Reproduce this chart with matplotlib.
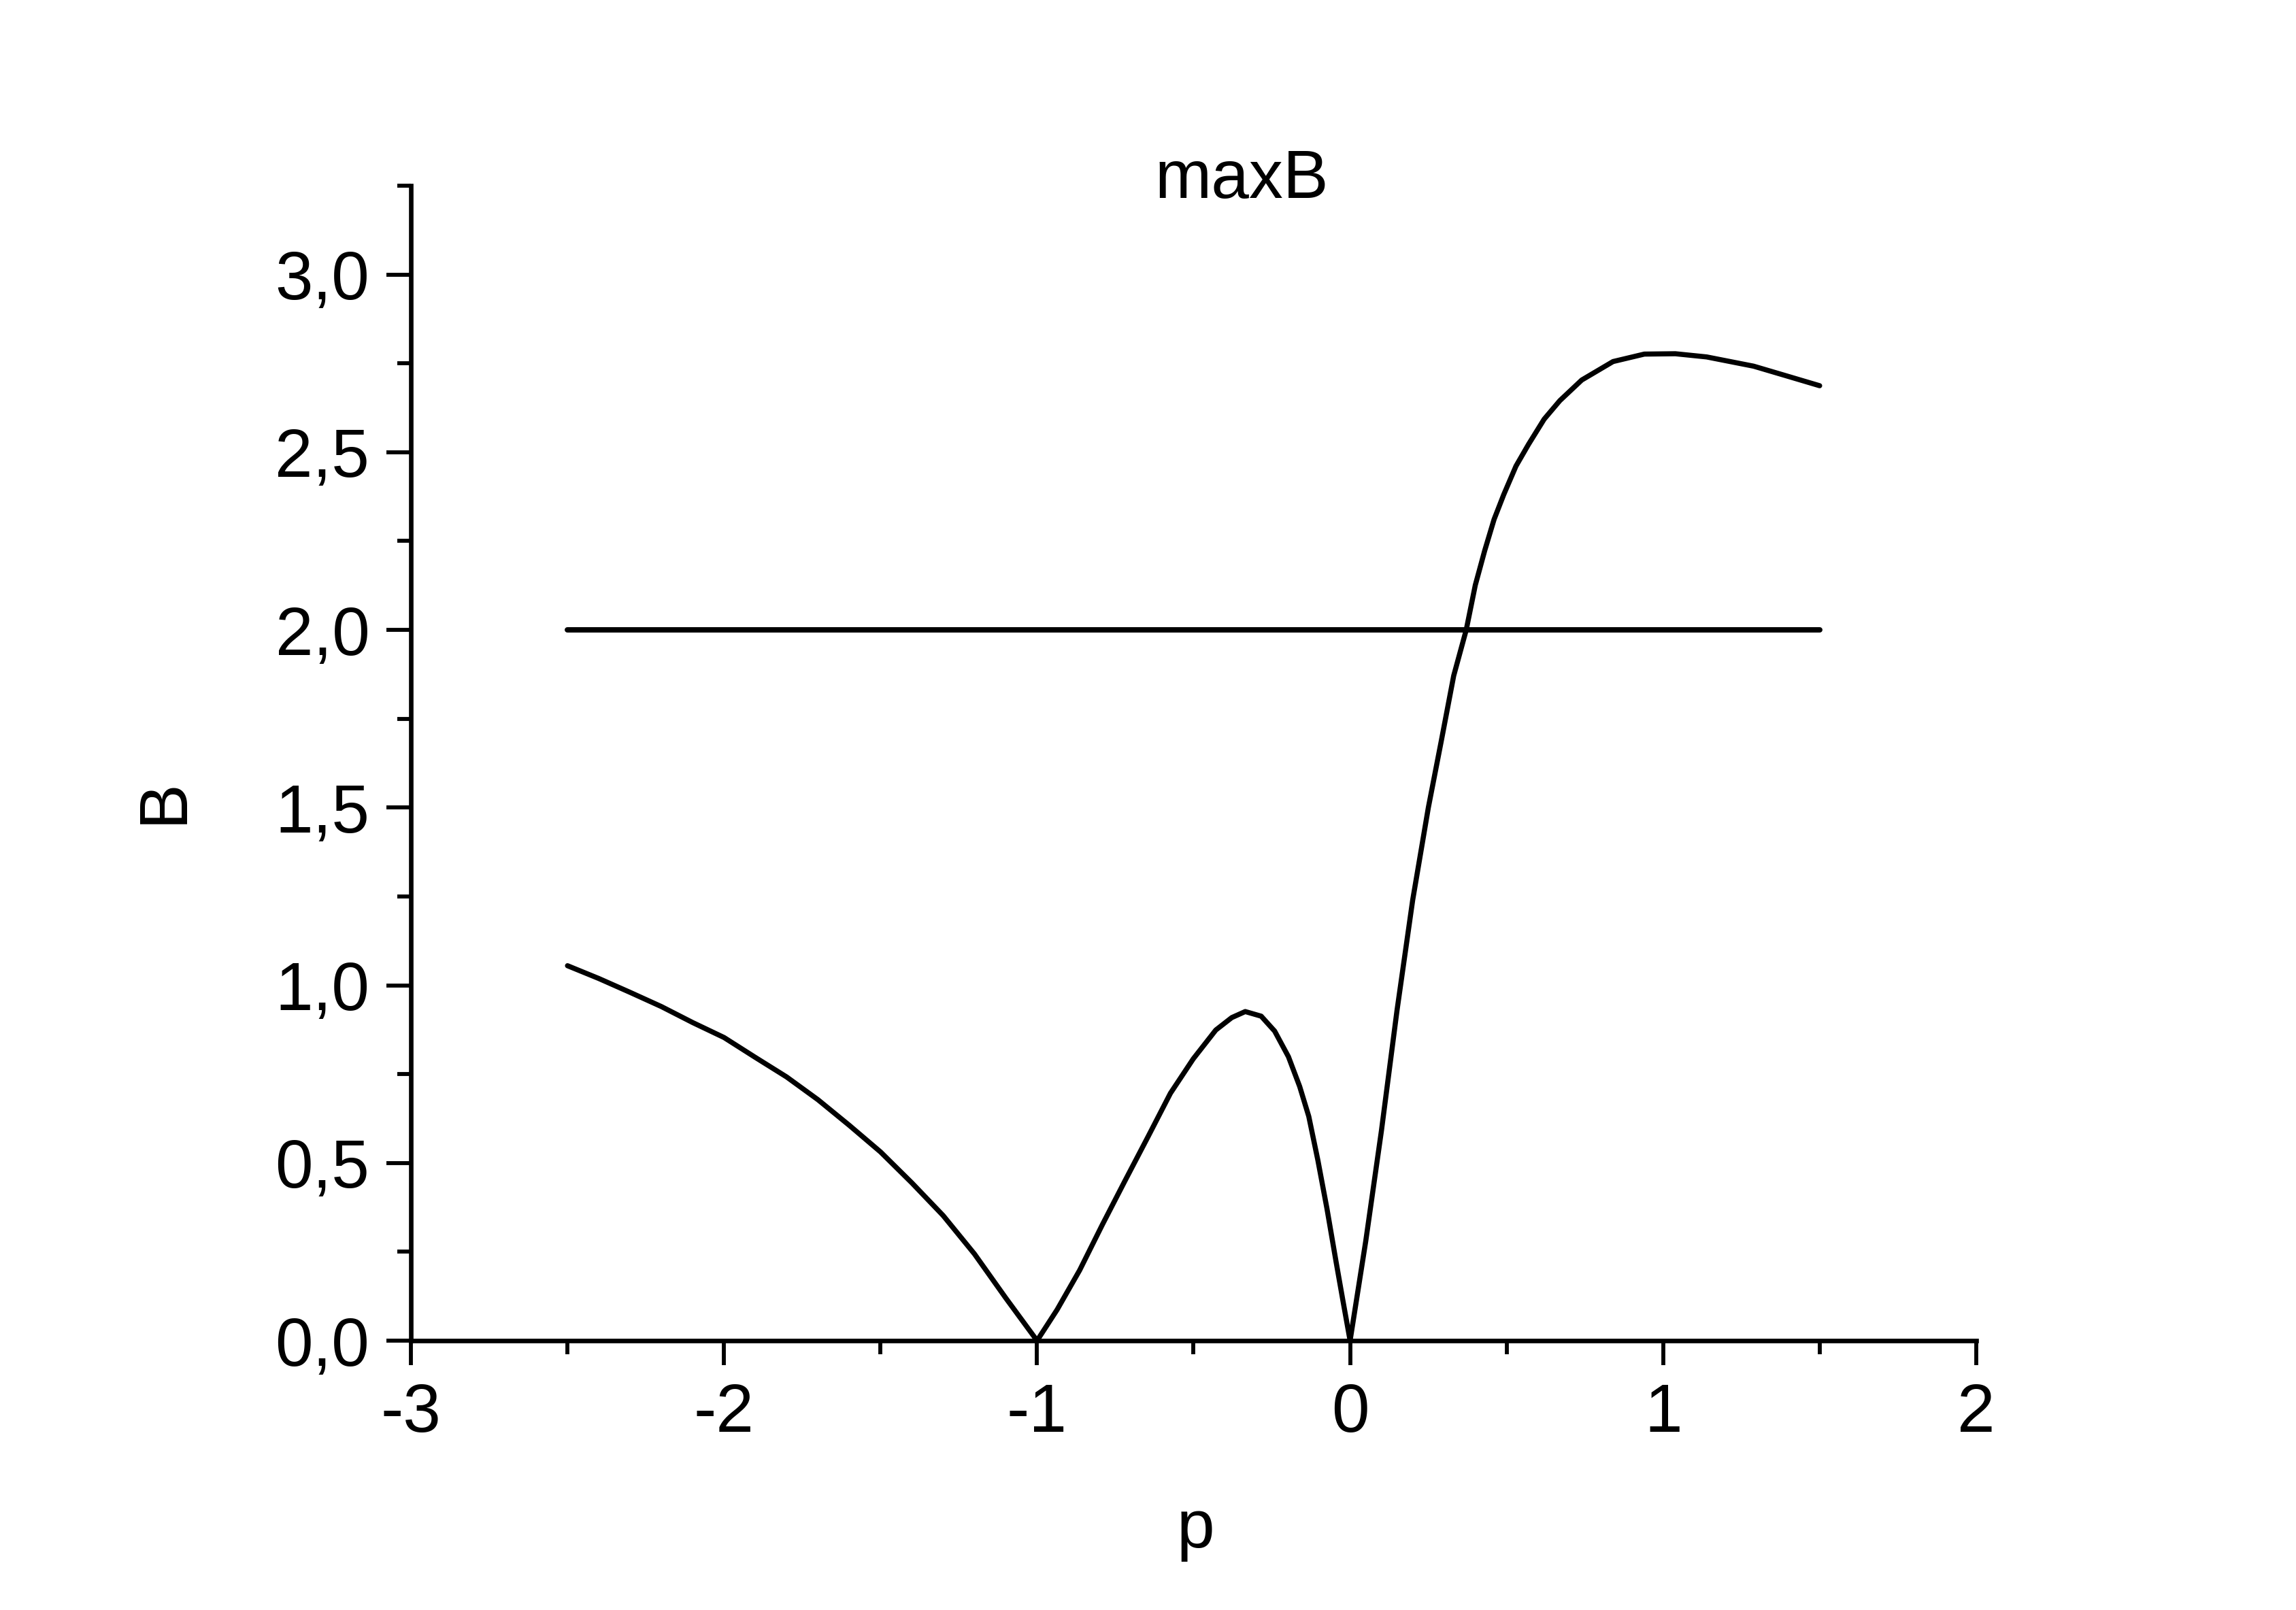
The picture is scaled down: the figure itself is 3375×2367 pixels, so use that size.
import matplotlib
matplotlib.use('Agg')
import matplotlib.pyplot as plt
from matplotlib.ticker import MultipleLocator, FuncFormatter

# maxB curve
p_vals = [-2.5, -2.4, -2.3, -2.2, -2.1, -2.0, -1.9, -1.8, -1.7, -1.6,
          -1.5, -1.4, -1.3, -1.2, -1.1, -1.0,
          -0.936, -0.864, -0.791, -0.719, -0.646, -0.574, -0.501, -0.429,
          -0.378, -0.335, -0.284, -0.241, -0.197, -0.161, -0.132, -0.103,
          -0.074, -0.045, -0.023, 0.0,
          0.05, 0.1, 0.15, 0.2, 0.25, 0.291, 0.331, 0.371, 0.400, 0.430,
          0.460, 0.491, 0.530, 0.570, 0.620, 0.670, 0.740, 0.840, 0.940,
          1.039, 1.139, 1.289, 1.389, 1.5]
B_vals = [1.055, 1.019, 0.98, 0.94, 0.895, 0.853, 0.797, 0.742, 0.678, 0.606,
          0.531, 0.444, 0.352, 0.244, 0.12, 0.0,
          0.087, 0.198, 0.327, 0.450, 0.573, 0.696, 0.793, 0.874,
          0.909, 0.926, 0.913, 0.871, 0.799, 0.715, 0.631, 0.508,
          0.372, 0.223, 0.113, 0.0,
          0.28, 0.59, 0.93, 1.24, 1.50, 1.686, 1.871, 2.0, 2.126, 2.223,
          2.311, 2.381, 2.461, 2.522, 2.593, 2.645, 2.703, 2.755, 2.776,
          2.777, 2.768, 2.742, 2.716, 2.687]

# constant level
level_p = [-2.5, 1.5]
level_B = [2.0, 2.0]

plt.rcParams['font.family'] = ['Liberation Sans', 'DejaVu Sans']
plt.rcParams['axes.unicode_minus'] = False

fig = plt.figure(figsize=(11.25, 7.89), dpi=300)
ax = fig.add_axes([0.179, 0.1673, 0.6817, 0.7174])

ax.plot(p_vals, B_vals, color='black', lw=1.8, solid_joinstyle='round',
        solid_capstyle='round')
ax.plot(level_p, level_B, color='black', lw=1.9, solid_capstyle='round')

ax.set_xlim(-3, 2)
ax.set_ylim(0, 3.25)

for s in ['top', 'right']:
    ax.spines[s].set_visible(False)
for s in ['left', 'bottom']:
    ax.spines[s].set_linewidth(1.6)

ax.xaxis.set_major_locator(MultipleLocator(1))
ax.xaxis.set_minor_locator(MultipleLocator(0.5))
ax.yaxis.set_major_locator(MultipleLocator(0.5))
ax.yaxis.set_minor_locator(MultipleLocator(0.25))
ax.xaxis.set_major_formatter(FuncFormatter(lambda v, pos: '%d' % round(v)))
ax.yaxis.set_major_formatter(FuncFormatter(lambda v, pos: ('%.1f' % v).replace('.', ',')))

ax.tick_params(which='major', direction='out', length=8.6, width=1.4, labelsize=24, pad=6)
ax.tick_params(which='minor', direction='out', length=4.8, width=1.4)

fig.text(0.5407, 0.8772, 'maxB', fontsize=24, ha='center', va='baseline')
fig.text(0.5206, 0.0389, 'p', fontsize=24, ha='center', va='baseline')
fig.text(0.0794, 0.5023, 'B', fontsize=24, ha='center', va='baseline',
         rotation=90, rotation_mode='anchor')

fig.savefig('out.png', dpi=300)
